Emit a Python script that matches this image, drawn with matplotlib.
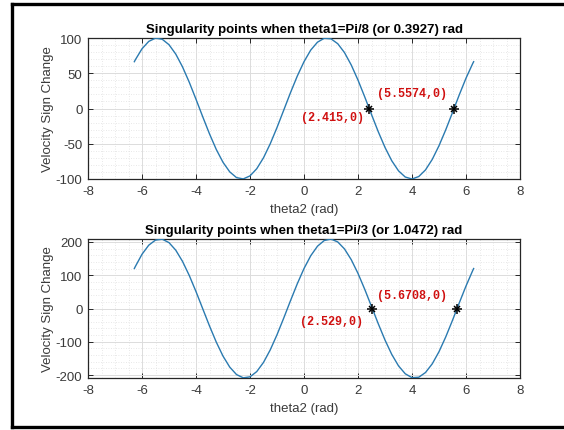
import numpy as np
import matplotlib
matplotlib.use("Agg")
import matplotlib.pyplot as plt
from matplotlib.lines import Line2D
from matplotlib.ticker import MultipleLocator

plt.rcParams['font.family'] = ['Liberation Sans', 'DejaVu Sans']
plt.rcParams['axes.unicode_minus'] = False

# ---- data ----
theta2 = [-6.2832, -6.25, -6.0, -5.75, -5.5, -5.25, -5.0, -4.75, -4.5, -4.25, -4.0,
          -3.75, -3.5, -3.25, -3.0, -2.75, -2.5, -2.25, -2.0, -1.75, -1.5, -1.25,
          -1.0, -0.75, -0.5, -0.25, 0.0, 0.25, 0.5, 0.75, 1.0, 1.25, 1.5, 1.75,
          2.0, 2.25, 2.5, 2.75, 3.0, 3.25, 3.5, 3.75, 4.0, 4.25, 4.5, 4.75, 5.0,
          5.25, 5.5, 5.75, 6.0, 6.25, 6.2832]

vel_pi8 = [66.4, 68.9, 84.7, 95.2, 99.8, 98.2, 90.5, 77.2, 59.1, 37.3, 13.1,
           -11.8, -36.0, -58.0, -76.3, -89.9, -98.0, -99.9, -95.6, -85.4, -69.9, -50.0,
           -27.0, -2.3, 22.5, 45.9, 66.4, 82.9, 94.1, 99.6, 98.8, 91.9, 79.3, 61.7,
           40.3, 16.4, -8.5, -32.9, -55.2, -74.1, -88.4, -97.2, -100.0, -96.5, -87.1, -72.2, -52.8,
           -30.2, -5.7, 19.3, 43.0, 63.9, 66.4]

vel_pi3 = [120.2, 125.8, 163.1, 190.4, 205.8, 208.4, 198.1, 175.4, 141.8, 99.4, 50.9,
           -0.9, -52.5, -100.9, -143.1, -176.3, -198.6, -208.5, -205.5, -189.7, -162.1, -124.4,
           -79.0, -28.7, 23.5, 74.1, 120.2, 158.7, 187.4, 204.5, 208.8, 200.2, 179.1, 146.8,
           105.5, 57.6, 6.1, -45.8, -94.8, -138.0, -172.5, -196.3, -208.0, -206.7, -192.5, -166.4, -129.9,
           -85.4, -35.5, 16.6, 67.6, 114.4, 120.2]

sing_pi8 = [2.415, 5.5574]
sing_pi3 = [2.529, 5.6708]
labels_pi8 = ['(2.415,0)', '(5.5574,0)']
labels_pi3 = ['(2.529,0)', '(5.6708,0)']

titles = ['Singularity points when theta1=Pi/8 (or 0.3927) rad',
          'Singularity points when theta1=Pi/3 (or 1.0472) rad']
xticks = [-8, -6, -4, -2, 0, 2, 4, 6, 8]
yticks_pi8 = [-100, -50, 0, 50, 100]
yticks_pi3 = [-200, -100, 0, 100, 200]

W, H = 564, 431
fig = plt.figure(figsize=(W / 100, H / 100), dpi=100)

def px_axes(left, top, right, bottom):
    return fig.add_axes([left / W, 1 - bottom / H, (right - left) / W, (bottom - top) / H])

ax1 = px_axes(88, 39, 520, 180)
ax2 = px_axes(88, 240, 520, 379)

line_col = '#2a7ab0'
red = '#d01010'

configs = [
    (ax1, vel_pi8, sing_pi8, labels_pi8, titles[0], yticks_pi8, (-100, 100), 10,
     [(-4, -6), (-5, 11)]),
    (ax2, vel_pi3, sing_pi3, labels_pi3, titles[1], yticks_pi3, (-209, 209), 20,
     [(-7, -9), (-7, 10)]),
]

for ax, vals, sing, labs, title, yt, ylim, yminor, offs in configs:
    ax.plot(theta2, vals, color=line_col, lw=1.0, zorder=3)
    ax.plot(sing, [0, 0], ls='none', marker='+', color='black', ms=7, mew=1.1, zorder=4)
    ax.plot(sing, [0, 0], ls='none', marker='x', color='black', ms=5, mew=1.1, zorder=4)
    for (sx, lab), (dx, dy) in zip(zip(sing, labs), offs):
        ax.annotate(lab, xy=(sx, 0), xytext=(dx, dy), textcoords='offset points',
                    ha='right', va='center', color=red, fontsize=8.5,
                    fontweight='bold', family='Liberation Mono', zorder=5)
    ax.set_xlim(-8, 8)
    ax.set_ylim(*ylim)
    ax.set_xticks(xticks)
    ax.set_yticks(yt)
    ax.xaxis.set_minor_locator(MultipleLocator(0.5))
    ax.yaxis.set_minor_locator(MultipleLocator(yminor))
    ax.grid(True, which='major', color='#dcdcdc', lw=0.7, zorder=0)
    ax.grid(True, which='minor', color='#e0e0e0', lw=0.6, ls=(0, (1, 2)), zorder=0)
    ax.set_axisbelow(True)
    ax.tick_params(which='major', direction='in', length=3.5, width=0.7, top=True, right=True,
                   labelsize=9.5, colors='#262626', labelcolor='#3a3a3a', pad=4)
    ax.tick_params(which='minor', length=0)
    for sp in ax.spines.values():
        sp.set_color('#262626')
        sp.set_linewidth(0.9)
    ax.set_title(title, fontsize=9.5, fontweight='bold', color='black', pad=4)
    ax.set_xlabel('theta2 (rad)', fontsize=9.5, color='#3a3a3a', labelpad=5)
    ax.set_ylabel('Velocity Sign Change', fontsize=9.5, color='#3a3a3a')
    ax.yaxis.set_label_coords(-34 / 432, 0.5)

# outer frame (top, left, bottom)
fr = dict(color='black', lw=2.4, transform=fig.transFigure)
fig.add_artist(Line2D([12 / W, 1], [1 - 5 / H, 1 - 5 / H], **fr))
fig.add_artist(Line2D([12 / W, 12 / W], [1 - 5 / H, 1 - 428 / H], **fr))
fig.add_artist(Line2D([12 / W, 1], [1 - 428 / H, 1 - 428 / H], **fr))

fig.savefig('out.png', dpi=100)
